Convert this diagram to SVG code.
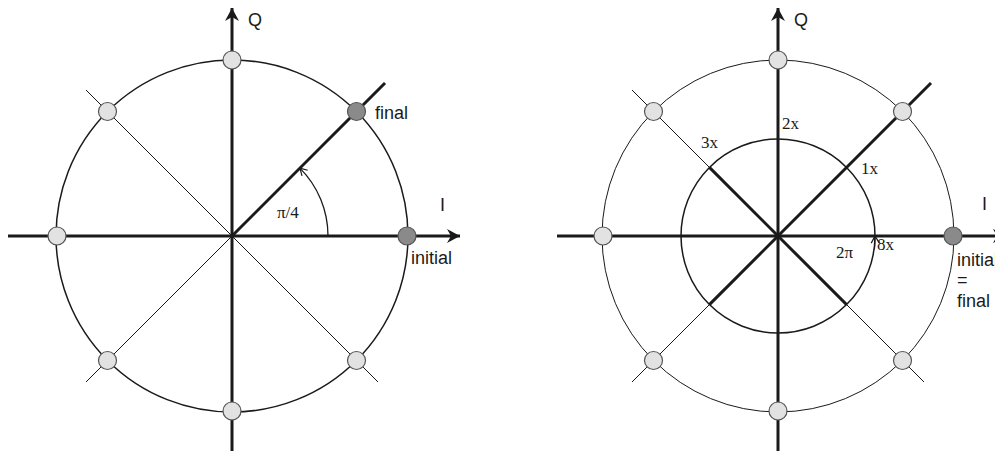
<svg xmlns="http://www.w3.org/2000/svg" width="995" height="451" viewBox="0 0 995 451">
<style>
.thick{stroke:#1a1a1a;stroke-width:3;fill:none}
.thin{stroke:#1a1a1a;stroke-width:1;fill:none}
.circ{stroke:#1a1a1a;stroke-width:1.5;fill:none}
.node{stroke:#555;stroke-width:1.2;fill:#e2e2e2}
.dark{fill:#8a8a8a}
.sans{font-family:"Liberation Sans",Arial,sans-serif;font-size:18px;fill:#1a1a1a}
.serif{font-family:"Liberation Serif","Times New Roman",serif;font-size:17px;fill:#1a1a1a}
</style>
<defs>
<marker id="ax" markerWidth="16" markerHeight="16" refX="14" refY="8" orient="auto" markerUnits="userSpaceOnUse">
<path d="M14,8 L1,1 L5,8 L1,15 Z" fill="#1a1a1a"/>
</marker>
<marker id="sm" markerWidth="10" markerHeight="10" refX="8" refY="5" orient="auto" markerUnits="userSpaceOnUse">
<path d="M1,1 L8,5 L1,9" fill="none" stroke="#1a1a1a" stroke-width="1.2"/>
</marker>
</defs>
<g id="connectors">
<!-- left diagram -->
<circle class="circ" cx="232" cy="236" r="176"/>
<line class="thin" x1="86" y1="90" x2="378" y2="382"/>
<line class="thin" x1="86" y1="382" x2="232" y2="236"/>
<line class="thick" x1="232" y1="236" x2="385" y2="83"/>
<line class="thick" x1="8" y1="236" x2="460" y2="236" marker-end="url(#ax)"/>
<line class="thick" x1="232" y1="451" x2="232" y2="8" marker-end="url(#ax)"/>
<path class="thin" style="stroke-width:1.3" d="M328,236 A96,96 0 0 0 299.9,168.1" marker-end="url(#sm)"/>
<!-- right diagram -->
<circle class="thin" cx="778" cy="236" r="176"/>
<circle class="circ" cx="778" cy="236" r="97"/>
<line class="thin" x1="632" y1="90" x2="924" y2="382"/>
<line class="thin" x1="632" y1="382" x2="778" y2="236"/>
<line class="thick" x1="778" y1="236" x2="931" y2="83"/>
<line class="thick" x1="709.4" y1="167.4" x2="846.6" y2="304.6"/>
<line class="thick" x1="709.4" y1="304.6" x2="778" y2="236"/>
<line class="thick" x1="557" y1="236" x2="1006" y2="236" marker-end="url(#ax)"/>
<line class="thick" x1="778" y1="451" x2="778" y2="8" marker-end="url(#ax)"/>
<path class="thin" d="M874.5,249.5 A97,97 0 0 0 875,236" marker-end="url(#sm)"/>
</g>
<g id="nodes-left">
<circle id="L0" class="node dark" cx="407" cy="236" r="9"/>
<circle id="L1" class="node dark" cx="356.5" cy="111.5" r="9"/>
<circle id="L2" class="node" cx="232" cy="60" r="9"/>
<circle id="L3" class="node" cx="107.5" cy="111.5" r="9"/>
<circle id="L4" class="node" cx="57" cy="236" r="9"/>
<circle id="L5" class="node" cx="107.5" cy="360.5" r="9"/>
<circle id="L6" class="node" cx="232" cy="411" r="9"/>
<circle id="L7" class="node" cx="356.5" cy="360.5" r="9"/>
</g>
<g id="nodes-right">
<circle id="R0" class="node dark" cx="953" cy="236" r="9"/>
<circle id="R1" class="node" cx="902.5" cy="111.5" r="9"/>
<circle id="R2" class="node" cx="778" cy="60" r="9"/>
<circle id="R3" class="node" cx="653.5" cy="111.5" r="9"/>
<circle id="R4" class="node" cx="603" cy="236" r="9"/>
<circle id="R5" class="node" cx="653.5" cy="360.5" r="9"/>
<circle id="R6" class="node" cx="778" cy="411" r="9"/>
<circle id="R7" class="node" cx="902.5" cy="360.5" r="9"/>
</g>
<g id="labels">
<text class="sans" x="248" y="26">Q</text>
<text class="sans" x="440" y="211">I</text>
<text class="sans" x="375" y="119">final</text>
<text class="sans" x="411" y="264">initial</text>
<text class="serif" x="277" y="218">π/4</text>
<text class="sans" x="794" y="26">Q</text>
<text class="sans" x="982" y="210">I</text>
<text class="sans" x="957" y="266">initial</text>
<text class="sans" x="957" y="286">=</text>
<text class="sans" x="957" y="307">final</text>
<text class="serif" x="782" y="129">2x</text>
<text class="serif" x="701" y="148">3x</text>
<text class="serif" x="861" y="174">1x</text>
<text class="serif" x="877" y="250">8x</text>
<text class="serif" x="836" y="258">2π</text>
</g>
</svg>
